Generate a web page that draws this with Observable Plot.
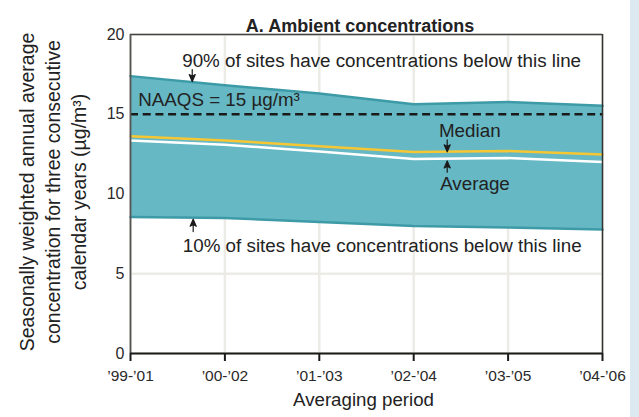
<!DOCTYPE html>
<html><head><meta charset="utf-8">
<script src="https://cdn.jsdelivr.net/npm/d3@7"></script>
<script src="https://cdn.jsdelivr.net/npm/@observablehq/plot@0.6"></script>
<style>
body{margin:0;background:#fff;overflow:hidden}
#strip{position:absolute;left:630px;top:0;width:9px;height:417px;background:#dde9f0}
</style></head><body><div id="chart"></div><div id="strip"></div>
<script>
const periods = ["\u201999-\u201901","\u201900-\u201902","\u201901-\u201903","\u201902-\u201904","\u201903-\u201905","\u201904-\u201906"];
const p90     = [17.39, 16.82, 16.3, 15.62, 15.77, 15.53];
const median  = [13.62, 13.36, 12.99, 12.63, 12.69, 12.48];
const average = [13.36, 13.09, 12.67, 12.19, 12.25, 12.0];
const p10     = [8.56, 8.5, 8.25, 8.0, 7.9, 7.78];
const naaqs = 15;
const yTicks = [0, 5, 10, 15, 20];
const title = "A. Ambient concentrations";
const xLabel = "Averaging period";
const yLabel = "Seasonally weighted annual average\nconcentration for three consecutive\ncalendar years (\u00b5g/m\u00b3)";

const data = periods.map((p, i) => ({i, p, p90: p90[i], median: median[i], average: average[i], p10: p10[i]}));

const font = "'Liberation Sans', Arial, sans-serif";
const arrowShape = {
  draw(ctx, l) {
    ctx.moveTo(0, 0); ctx.lineTo(0, -l + 4);
    ctx.moveTo(0, -l); ctx.lineTo(-3, -l + 7); ctx.lineTo(0, -l + 5); ctx.lineTo(3, -l + 7); ctx.closePath();
  }
};
const notesStart = [
  {x: 0.548, y: 18.35, t: "90% of sites have concentrations below this line"},
  {x: 0.0815, y: 15.9, t: "NAAQS = 15 \u00b5g/m\u00b3"},
  {x: 0.554, y: 6.72, t: "10% of sites have concentrations below this line"}
];
const notesMiddle = [
  {x: 3.594, y: 13.94, t: "Median"},
  {x: 3.649, y: 10.61, t: "Average"}
];
const arrows = [
  {x: 0.654, y: 17.80, len: 11.4, r: 180},
  {x: 3.355, y: 13.40, len: 11.4, r: 180},
  {x: 3.355, y: 11.37, len: 10.7, r: 0},
  {x: 0.664, y: 7.645, len: 11.7, r: 0}
];

const chart = Plot.plot({
  width: 630, height: 417,
  marginLeft: 130, marginRight: 28, marginTop: 34, marginBottom: 64,
  style: {fontFamily: font, fontSize: "16px", color: "#2a2a2a", background: "#fff", overflow: "visible"},
  x: {domain: [0, 5]},
  y: {domain: [0, 20]},
  marks: [
    Plot.gridX(d3.range(periods.length), {stroke: "#ecebe5", strokeOpacity: 1, strokeWidth: 2.5}),
    Plot.gridY(yTicks, {stroke: "#ecebe5", strokeOpacity: 1, strokeWidth: 2.5}),
    Plot.areaY(data, {x: "i", y1: "p10", y2: "p90", fill: "#66b8c4"}),
    Plot.lineY(data, {x: "i", y: "p90", stroke: "#3d9aa7", strokeWidth: 2.5}),
    Plot.lineY(data, {x: "i", y: "p10", stroke: "#3d9aa7", strokeWidth: 2.5}),
    Plot.lineY(data, {x: "i", y: "median", stroke: "#f6c633", strokeWidth: 2.5}),
    Plot.lineY(data, {x: "i", y: "average", stroke: "#ffffff", strokeWidth: 2.5}),
    Plot.ruleY([naaqs], {stroke: "#1a1a1a", strokeWidth: 2.3, strokeDasharray: "8,4.7"}),
    Plot.ruleY([20], {stroke: "#444", strokeWidth: 1.5}),
    Plot.ruleX([5], {stroke: "#333", strokeWidth: 1.5}),
    Plot.ruleX([0], {stroke: "#555", strokeWidth: 1.8}),
    Plot.ruleY([0], {stroke: "#1a1a1a", strokeWidth: 1.8}),
    Plot.axisX({ticks: d3.range(periods.length), tickFormat: i => periods[i], label: null, tickSize: 8, tickPadding: 8, strokeWidth: 2, stroke: "#1a1a1a", fontSize: 15.5, fill: "#2a2a2a"}),
    Plot.axisY({ticks: yTicks, label: null, tickSize: 0, tickPadding: 6, fontSize: 16, fill: "#2a2a2a"}),
    Plot.vector(arrows, {x: "x", y: "y", length: "len", rotate: "r", anchor: "start", shape: arrowShape, stroke: "#1a1a1a", fill: "#1a1a1a", strokeWidth: 1.2}),
    Plot.text(notesStart, {x: "x", y: "y", text: "t", textAnchor: "start", fontSize: 18.8, fill: "#222"}),
    Plot.text(notesMiddle, {x: "x", y: "y", text: "t", textAnchor: "middle", fontSize: 18.8, fill: "#222"}),
    Plot.text([title], {frameAnchor: "top", dy: -14.8, dx: -6.5, fontWeight: "bold", fontSize: 18, fill: "#222"}),
    Plot.text([xLabel], {frameAnchor: "bottom", dy: 52, dx: -3, fontSize: 18.7, fill: "#222"}),
    Plot.text([yLabel], {frameAnchor: "left", textAnchor: "middle", lineAnchor: "middle", dx: -79, dy: -2, rotate: -90, fontSize: 19.5, lineHeight: 1.33, fill: "#222"})
  ]
});
document.getElementById("chart").append(chart);
</script></body></html>
